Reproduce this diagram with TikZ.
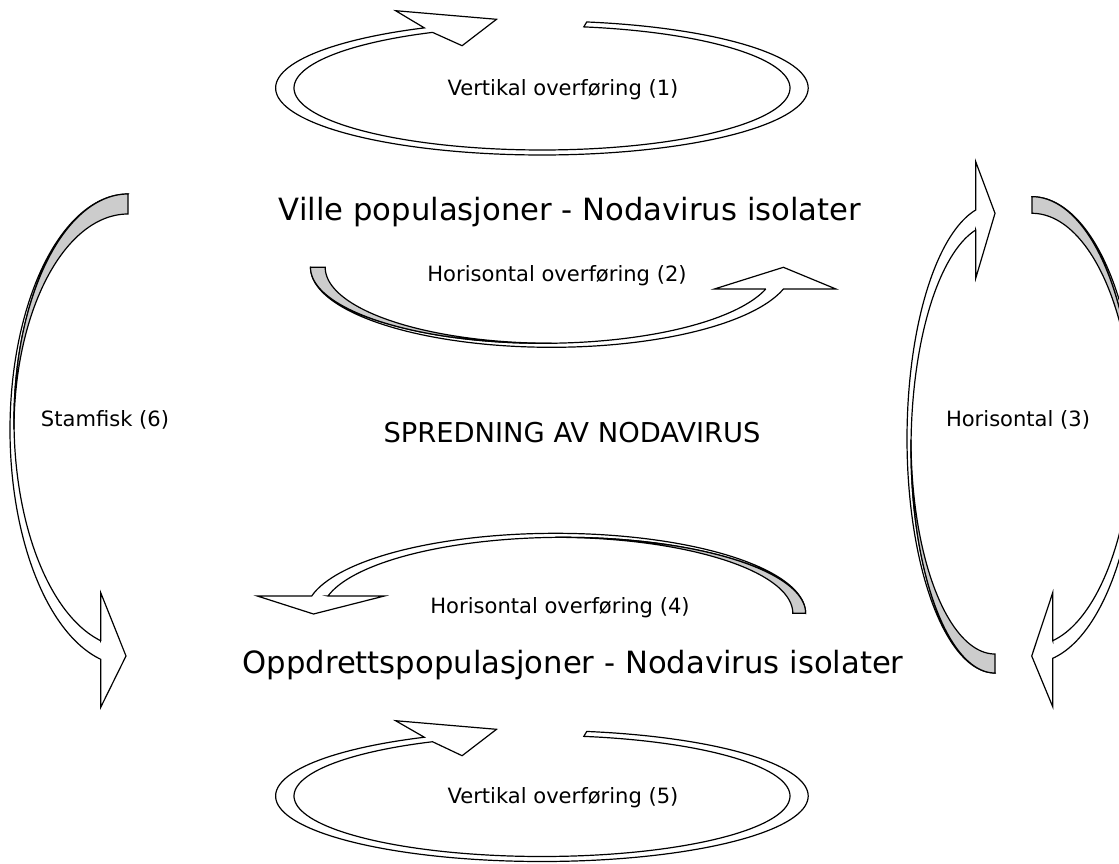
\documentclass[tikz,border=0pt]{standalone}
\usepackage{fontspec}
\setmainfont{DejaVu Sans}
\tikzset{
  arw/.style={draw=black, fill=white, line width=0.9pt, line join=miter},
  arwgray/.style={arw, fill=gray!40},
  lbl/.style={inner sep=0pt, font=\fontsize{15.8}{19}\selectfont},
  ttl/.style={inner sep=0pt, font=\fontsize{23}{28}\selectfont},
  ctr/.style={inner sep=0pt, font=\fontsize{20.5}{25}\selectfont}
}
% curved block arrow in a local frame: tail at origin (top), band bulges to -u, head at bottom pointing +u
% #1 W, #2 d, #3 Hn, #4 h, #5 t, #6 s, #7 b1, #8 b2, #9 tip
\newcommand\crvarrow[9]{%
  \pgfmathsetmacro\crvcO{sqrt(1-(#2/#1)^2)}%
  \pgfmathsetmacro\crvRo{#3/(1+\crvcO)}%
  \pgfmathsetmacro\crvWi{#1-#6}%
  \pgfmathsetmacro\crvcI{sqrt(1-(#2/\crvWi)^2)}%
  \pgfmathsetmacro\crvRi{(#3-#4)/(1+\crvcI)}%
  \pgfmathsetmacro\crvRm{\crvRi+8.7-#5}%
  \pgfmathsetmacro\crvthO{acos(-#2/#1)}%
  \pgfmathsetmacro\crvthI{acos(-#2/\crvWi)}%
  \filldraw[arw] plot[domain=270:\crvthO] ({#1*cos(\x)},{\crvRo+\crvRo*sin(\x)})
     -- (-#2,#3+#8) -- (#9) -- (-#2,#3-#4-#7) -- (-#2,#3-#4)
     -- plot[domain=\crvthI:270] ({\crvWi*cos(\x)},{\crvRi+\crvRi*sin(\x)}) -- cycle;
  \filldraw[arwgray] plot[domain=270:180] ({\crvWi*cos(\x)},{\crvRi+\crvRi*sin(\x)})
     -- plot[domain=180:270] ({\crvWi*cos(\x)},{#5+\crvRm+\crvRm*sin(\x)}) -- cycle;
}
% ring arrow: #1 centre y, #2 outer y radius, #3 inner y radius, #4 head y offset
\newcommand\ringarrow[4]{%
  \filldraw[arw] plot[domain=-80.3:243.8] ({541.9+266.3*cos(\x)},{#1+#2*sin(\x)})
     -- (395.6,10.7+#4) -- (496.5,19.3+#4) -- (462.1,45.7+#4)
     -- plot[domain=243.8:-80.3] ({542+248*cos(\x)},{#1+#3*sin(\x)}) -- cycle;
}
\begin{document}
\begin{tikzpicture}[x=0.75pt, y=-0.75pt, samples=150]
  \path[use as bounding box] (0,0) rectangle (1119,863);
  \clip (0,0) rectangle (1119,863);
  % vertical transfer rings
  \ringarrow{88}{67}{62}{0}
  \ringarrow{796}{65.5}{60.5}{710}
  % horizontal (2)
  \begin{scope}[shift={(310.5,267.3)}, rotate=90]
    \crvarrow{80}{21.7}{472.9}{17.6}{14.7}{4}{51.4}{52.5}{0,472.9}
  \end{scope}
  % horizontal (4)
  \begin{scope}[shift={(805.6,613.3)}, rotate=-90]
    \crvarrow{80}{17.3}{493.9}{16.3}{12.8}{4}{56.4}{54.4}{0.7,492.1}
  \end{scope}
  % stamfisk (6)
  \begin{scope}[shift={(128,194)}]
    \crvarrow{118}{27.3}{465.3}{18.6}{20}{4}{48}{48}{-2,462}
  \end{scope}
  % horisontal (3) left part
  \begin{scope}[shift={(995,673)}, yscale=-1]
    \crvarrow{88}{19.3}{463}{20}{19}{4}{48.3}{48.3}{0,459.7}
  \end{scope}
  % horisontal (3) right part
  \begin{scope}[shift={(1032,196.7)}, xscale=-1]
    \crvarrow{105}{20.7}{461.6}{17.6}{16.6}{4}{48}{48.4}{0.3,459.3}
  \end{scope}
  % texts
  \node[lbl] (v1) at (563,90) {Vertikal overføring (1)};
  \node[ttl] (t1) at (570,212) {Ville populasjoner - Nodavirus isolater};
  \node[lbl] (h2) at (557,276) {Horisontal overføring (2)};
  \node[lbl] (s6) at (105,420) {Stamfisk (6)};
  \node[ctr] (c) at (572,433) {SPREDNING AV NODAVIRUS};
  \node[lbl] (h3) at (1018,420) {Horisontal (3)};
  \node[lbl] (h4) at (560,608) {Horisontal overføring (4)};
  \node[ttl] (t2) at (573,665) {Oppdrettspopulasjoner - Nodavirus isolater};
  \node[lbl] (v5) at (563,798) {Vertikal overføring (5)};
\end{tikzpicture}
\end{document}
